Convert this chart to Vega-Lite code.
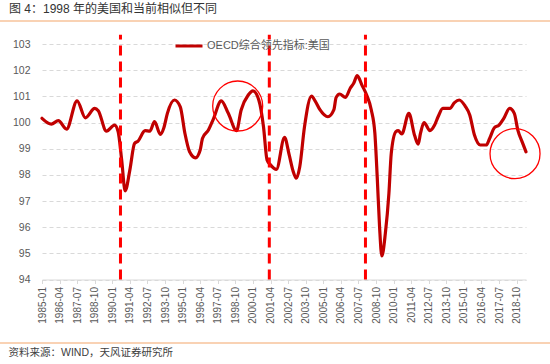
{
  "$schema": "https://vega.github.io/schema/vega-lite/v6.json",
  "width": 484,
  "height": 235.5,
  "autosize": {"type": "none"},
  "padding": {"left": 42, "top": 44, "right": 24, "bottom": 84.5},
  "background": "white",
  "config": {"font": "Liberation Sans, Noto Sans CJK SC", "view": {"stroke": null}},
  "title": {"text": "图 4：1998 年的美国和当前相似但不同", "anchor": "start", "frame": "group", "dx": -33, "offset": 4, "fontSize": 12, "fontWeight": "normal", "color": "#333333", "font": "Liberation Sans, Noto Sans CJK SC"},
  "resolve": {"axis": {"x": "independent", "y": "independent"}},
  "datasets": {
    "cli": [
      {"date": "1985-01-01", "value": 100.16, "series": "OECD综合领先指标:美国"},
      {"date": "1985-09-01", "value": 99.94, "series": "OECD综合领先指标:美国"},
      {"date": "1986-03-01", "value": 100.07, "series": "OECD综合领先指标:美国"},
      {"date": "1986-10-01", "value": 99.75, "series": "OECD综合领先指标:美国"},
      {"date": "1987-07-01", "value": 100.83, "series": "OECD综合领先指标:美国"},
      {"date": "1988-02-01", "value": 100.18, "series": "OECD综合领先指标:美国"},
      {"date": "1988-10-01", "value": 100.54, "series": "OECD综合领先指标:美国"},
      {"date": "1989-01-01", "value": 100.45, "series": "OECD综合领先指标:美国"},
      {"date": "1989-08-01", "value": 99.67, "series": "OECD综合领先指标:美国"},
      {"date": "1990-03-01", "value": 99.9, "series": "OECD综合领先指标:美国"},
      {"date": "1990-06-01", "value": 99.65, "series": "OECD综合领先指标:美国"},
      {"date": "1990-09-01", "value": 98.57, "series": "OECD综合领先指标:美国"},
      {"date": "1990-12-01", "value": 97.39, "series": "OECD综合领先指标:美国"},
      {"date": "1991-04-01", "value": 98.18, "series": "OECD综合领先指标:美国"},
      {"date": "1991-08-01", "value": 99.2, "series": "OECD综合领先指标:美国"},
      {"date": "1991-11-01", "value": 99.29, "series": "OECD综合领先指标:美国"},
      {"date": "1992-05-01", "value": 99.69, "series": "OECD综合领先指标:美国"},
      {"date": "1992-09-01", "value": 99.67, "series": "OECD综合领先指标:美国"},
      {"date": "1993-01-01", "value": 100.03, "series": "OECD综合领先指标:美国"},
      {"date": "1993-06-01", "value": 99.55, "series": "OECD综合领先指标:美国"},
      {"date": "1993-09-01", "value": 99.8, "series": "OECD综合领先指标:美国"},
      {"date": "1993-12-01", "value": 100.35, "series": "OECD综合领先指标:美国"},
      {"date": "1994-06-01", "value": 100.86, "series": "OECD综合领先指标:美国"},
      {"date": "1994-11-01", "value": 100.6, "series": "OECD综合领先指标:美国"},
      {"date": "1995-03-01", "value": 99.59, "series": "OECD综合领先指标:美国"},
      {"date": "1995-07-01", "value": 98.88, "series": "OECD综合领先指标:美国"},
      {"date": "1995-12-01", "value": 98.65, "series": "OECD综合领先指标:美国"},
      {"date": "1996-04-01", "value": 98.95, "series": "OECD综合领先指标:美国"},
      {"date": "1996-06-01", "value": 99.4, "series": "OECD综合领先指标:美国"},
      {"date": "1996-11-01", "value": 99.71, "series": "OECD综合领先指标:美国"},
      {"date": "1997-03-01", "value": 100.1, "series": "OECD综合领先指标:美国"},
      {"date": "1997-10-01", "value": 100.83, "series": "OECD综合领先指标:美国"},
      {"date": "1998-04-01", "value": 100.35, "series": "OECD综合领先指标:美国"},
      {"date": "1998-11-01", "value": 99.69, "series": "OECD综合领先指标:美国"},
      {"date": "1999-03-01", "value": 100.48, "series": "OECD综合领先指标:美国"},
      {"date": "1999-09-01", "value": 101.05, "series": "OECD综合领先指标:美国"},
      {"date": "2000-01-01", "value": 101.21, "series": "OECD综合领先指标:美国"},
      {"date": "2000-06-01", "value": 100.86, "series": "OECD综合领先指标:美国"},
      {"date": "2000-10-01", "value": 99.84, "series": "OECD综合领先指标:美国"},
      {"date": "2001-01-01", "value": 98.57, "series": "OECD综合领先指标:美国"},
      {"date": "2001-04-01", "value": 98.38, "series": "OECD综合领先指标:美国"},
      {"date": "2001-09-01", "value": 98.21, "series": "OECD综合领先指标:美国"},
      {"date": "2002-04-01", "value": 99.43, "series": "OECD综合领先指标:美国"},
      {"date": "2002-08-01", "value": 98.75, "series": "OECD综合领先指标:美国"},
      {"date": "2002-11-01", "value": 98.18, "series": "OECD综合领先指标:美国"},
      {"date": "2003-02-01", "value": 97.87, "series": "OECD综合领先指标:美国"},
      {"date": "2003-05-01", "value": 98.31, "series": "OECD综合领先指标:美国"},
      {"date": "2003-09-01", "value": 99.84, "series": "OECD综合领先指标:美国"},
      {"date": "2004-03-01", "value": 101.01, "series": "OECD综合领先指标:美国"},
      {"date": "2004-06-01", "value": 100.83, "series": "OECD综合领先指标:美国"},
      {"date": "2004-10-01", "value": 100.5, "series": "OECD综合领先指标:美国"},
      {"date": "2005-05-01", "value": 100.22, "series": "OECD综合领先指标:美国"},
      {"date": "2005-10-01", "value": 100.48, "series": "OECD综合领先指标:美国"},
      {"date": "2005-12-01", "value": 100.96, "series": "OECD综合领先指标:美国"},
      {"date": "2006-03-01", "value": 101.09, "series": "OECD综合领先指标:美国"},
      {"date": "2006-08-01", "value": 100.96, "series": "OECD综合领先指标:美国"},
      {"date": "2006-12-01", "value": 101.31, "series": "OECD综合领先指标:美国"},
      {"date": "2007-03-01", "value": 101.5, "series": "OECD综合领先指标:美国"},
      {"date": "2007-06-01", "value": 101.79, "series": "OECD综合领先指标:美国"},
      {"date": "2007-10-01", "value": 101.43, "series": "OECD综合领先指标:美国"},
      {"date": "2008-02-01", "value": 101.05, "series": "OECD综合领先指标:美国"},
      {"date": "2008-06-01", "value": 100.48, "series": "OECD综合领先指标:美国"},
      {"date": "2008-09-01", "value": 99.59, "series": "OECD综合领先指标:美国"},
      {"date": "2008-11-01", "value": 97.93, "series": "OECD综合领先指标:美国"},
      {"date": "2009-01-01", "value": 96.02, "series": "OECD综合领先指标:美国"},
      {"date": "2009-03-01", "value": 94.9, "series": "OECD综合领先指标:美国"},
      {"date": "2009-06-01", "value": 95.77, "series": "OECD综合领先指标:美国"},
      {"date": "2009-09-01", "value": 97.29, "series": "OECD综合领先指标:美国"},
      {"date": "2009-11-01", "value": 98.82, "series": "OECD综合领先指标:美国"},
      {"date": "2010-03-01", "value": 99.65, "series": "OECD综合领先指标:美国"},
      {"date": "2010-05-01", "value": 99.69, "series": "OECD综合领先指标:美国"},
      {"date": "2010-08-01", "value": 99.56, "series": "OECD综合领先指标:美国"},
      {"date": "2011-02-01", "value": 100.35, "series": "OECD综合领先指标:美国"},
      {"date": "2011-07-01", "value": 99.5, "series": "OECD综合领先指标:美国"},
      {"date": "2011-10-01", "value": 99.17, "series": "OECD综合领先指标:美国"},
      {"date": "2011-12-01", "value": 99.59, "series": "OECD综合领先指标:美国"},
      {"date": "2012-03-01", "value": 100.0, "series": "OECD综合领先指标:美国"},
      {"date": "2012-08-01", "value": 99.69, "series": "OECD综合领先指标:美国"},
      {"date": "2012-12-01", "value": 99.9, "series": "OECD综合领先指标:美国"},
      {"date": "2013-03-01", "value": 100.22, "series": "OECD综合领先指标:美国"},
      {"date": "2013-07-01", "value": 100.54, "series": "OECD综合领先指标:美国"},
      {"date": "2014-01-01", "value": 100.54, "series": "OECD综合领先指标:美国"},
      {"date": "2014-05-01", "value": 100.76, "series": "OECD综合领先指标:美国"},
      {"date": "2014-09-01", "value": 100.86, "series": "OECD综合领先指标:美国"},
      {"date": "2015-02-01", "value": 100.63, "series": "OECD综合领先指标:美国"},
      {"date": "2015-06-01", "value": 100.29, "series": "OECD综合领先指标:美国"},
      {"date": "2015-10-01", "value": 99.52, "series": "OECD综合领先指标:美国"},
      {"date": "2016-03-01", "value": 99.14, "series": "OECD综合领先指标:美国"},
      {"date": "2016-08-01", "value": 99.14, "series": "OECD综合领先指标:美国"},
      {"date": "2016-11-01", "value": 99.4, "series": "OECD综合领先指标:美国"},
      {"date": "2017-03-01", "value": 99.8, "series": "OECD综合领先指标:美国"},
      {"date": "2017-07-01", "value": 99.9, "series": "OECD综合领先指标:美国"},
      {"date": "2017-11-01", "value": 100.16, "series": "OECD综合领先指标:美国"},
      {"date": "2018-04-01", "value": 100.54, "series": "OECD综合领先指标:美国"},
      {"date": "2018-08-01", "value": 100.35, "series": "OECD综合领先指标:美国"},
      {"date": "2018-11-01", "value": 99.71, "series": "OECD综合领先指标:美国"},
      {"date": "2019-03-01", "value": 99.23, "series": "OECD综合领先指标:美国"},
      {"date": "2019-06-01", "value": 98.88, "series": "OECD综合领先指标:美国"}
    ],
    "events": [
      {"date": "1990-08-01"},
      {"date": "2001-03-01"},
      {"date": "2008-01-01"}
    ],
    "circles": [
      {"date": "1998-12-01", "value": 100.63},
      {"date": "2018-08-20", "value": 98.81}
    ]
  },
  "layer": [
    {
      "data": {"name": "cli"},
      "mark": {"type": "line", "interpolate": "monotone", "strokeWidth": 3.2, "strokeCap": "round", "strokeJoin": "round"},
      "encoding": {
        "x": {
          "field": "date", "type": "temporal",
          "scale": {"type": "utc", "domain": [{"year": 1985, "month": 1, "date": 1, "utc": true}, {"year": 2019, "month": 6, "date": 1, "utc": true}], "nice": false},
          "axis": {
            "values": [
              {"year": 1985, "month": 1, "date": 1, "utc": true},
              {"year": 1986, "month": 4, "date": 1, "utc": true},
              {"year": 1987, "month": 7, "date": 1, "utc": true},
              {"year": 1988, "month": 10, "date": 1, "utc": true},
              {"year": 1990, "month": 1, "date": 1, "utc": true},
              {"year": 1991, "month": 4, "date": 1, "utc": true},
              {"year": 1992, "month": 7, "date": 1, "utc": true},
              {"year": 1993, "month": 10, "date": 1, "utc": true},
              {"year": 1995, "month": 1, "date": 1, "utc": true},
              {"year": 1996, "month": 4, "date": 1, "utc": true},
              {"year": 1997, "month": 7, "date": 1, "utc": true},
              {"year": 1998, "month": 10, "date": 1, "utc": true},
              {"year": 2000, "month": 1, "date": 1, "utc": true},
              {"year": 2001, "month": 4, "date": 1, "utc": true},
              {"year": 2002, "month": 7, "date": 1, "utc": true},
              {"year": 2003, "month": 10, "date": 1, "utc": true},
              {"year": 2005, "month": 1, "date": 1, "utc": true},
              {"year": 2006, "month": 4, "date": 1, "utc": true},
              {"year": 2007, "month": 7, "date": 1, "utc": true},
              {"year": 2008, "month": 10, "date": 1, "utc": true},
              {"year": 2010, "month": 1, "date": 1, "utc": true},
              {"year": 2011, "month": 4, "date": 1, "utc": true},
              {"year": 2012, "month": 7, "date": 1, "utc": true},
              {"year": 2013, "month": 10, "date": 1, "utc": true},
              {"year": 2015, "month": 1, "date": 1, "utc": true},
              {"year": 2016, "month": 4, "date": 1, "utc": true},
              {"year": 2017, "month": 7, "date": 1, "utc": true},
              {"year": 2018, "month": 10, "date": 1, "utc": true}
            ],
            "format": "%Y-%m",
            "labelAngle": -90,
            "labelFontSize": 10,
            "labelColor": "#595959",
            "labelPadding": 3,
            "labelOverlap": false,
            "labelSeparation": 0,
            "labelFlush": false,
            "tickSize": 4,
            "tickColor": "#D9D9D9",
            "domainColor": "#D9D9D9",
            "grid": false,
            "title": "资料来源：WIND，天风证券研究所",
            "titleFontSize": 10.5,
            "titleFontWeight": "normal",
            "titleColor": "#404040",
            "titleX": -34,
            "titleY": 72.5,
            "titleAlign": "left",
            "titleAnchor": "start",
            "titleBaseline": "middle"
          }
        },
        "y": {
          "field": "value", "type": "quantitative",
          "scale": {"domain": [94, 103], "nice": false, "zero": false},
          "axis": {
            "values": [94, 95, 96, 97, 98, 99, 100, 101, 102, 103],
            "title": null,
            "domain": false,
            "ticks": false,
            "labelOverlap": false,
            "labelSeparation": 0,
            "labelFontSize": 10.5,
            "labelColor": "#595959",
            "labelPadding": 12,
            "gridColor": "#D9D9D9",
            "gridDash": [4, 3],
            "gridWidth": 1
          }
        },
        "color": {
          "field": "series", "type": "nominal",
          "scale": {"range": ["#C00000"]},
          "legend": {
            "title": null,
            "orient": "none",
            "legendX": 132,
            "legendY": -13,
            "padding": 0,
            "symbolType": "stroke",
            "symbolSize": 729,
            "symbolStrokeWidth": 3,
            "labelFontSize": 11,
            "labelColor": "#595959",
            "labelOffset": 3
          }
        }
      }
    },
    {
      "data": {"name": "events"},
      "mark": {"type": "rule", "color": "#FF0000", "strokeWidth": 3, "strokeDash": [10, 6]},
      "encoding": {
        "x": {"field": "date", "type": "temporal", "axis": null},
        "y": {"datum": 94, "axis": null},
        "y2": {"datum": 103.35}
      }
    },
    {
      "data": {"name": "circles"},
      "mark": {"type": "point", "shape": "circle", "filled": false, "stroke": "#FF0000", "strokeWidth": 1.3, "size": 2500, "opacity": 1},
      "encoding": {
        "x": {"field": "date", "type": "temporal", "axis": null},
        "y": {"field": "value", "type": "quantitative", "axis": null}
      }
    },
    {
      "data": {"values": [{}]},
      "mark": {"type": "rule", "color": "#F7C39B", "strokeWidth": 1.5},
      "encoding": {
        "x": {"datum": {"year": 1981, "month": 12, "date": 1, "utc": true}, "type": "temporal", "axis": null},
        "x2": {"datum": {"year": 2021, "month": 4, "date": 1, "utc": true}},
        "y": {"datum": 103.88, "axis": null}
      }
    },
    {
      "data": {"values": [{}]},
      "mark": {"type": "rule", "color": "#F7C39B", "strokeWidth": 1.5},
      "encoding": {
        "x": {"datum": {"year": 1981, "month": 12, "date": 1, "utc": true}, "type": "temporal", "axis": null},
        "x2": {"datum": {"year": 2021, "month": 4, "date": 1, "utc": true}},
        "y": {"datum": 91.574, "axis": null}
      }
    }
  ]
}
